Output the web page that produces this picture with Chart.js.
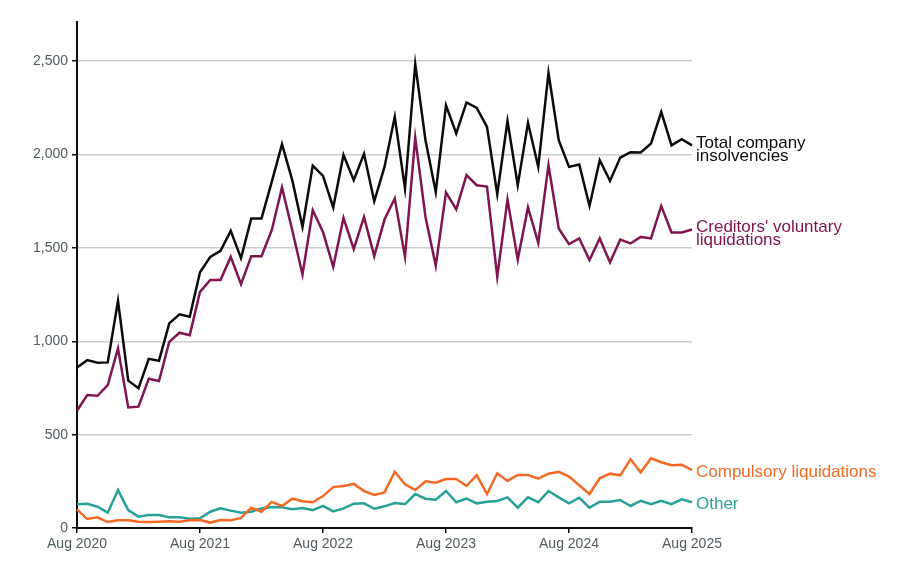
<!DOCTYPE html>
<html>
<head>
<meta charset="utf-8">
<script src="https://cdn.jsdelivr.net/npm/chart.js@4/dist/chart.umd.min.js"></script>
<style>
  html, body { margin: 0; padding: 0; background: #fff; }
  #wrap { width: 918px; height: 577px; position: relative; }
</style>
</head>
<body>
<div id="wrap"><canvas id="c"></canvas></div>
<script>
// Months Aug 2020 .. Aug 2025
const months = ["Aug 2020","Sep 2020","Oct 2020","Nov 2020","Dec 2020",
  "Jan 2021","Feb 2021","Mar 2021","Apr 2021","May 2021","Jun 2021","Jul 2021","Aug 2021","Sep 2021","Oct 2021","Nov 2021","Dec 2021",
  "Jan 2022","Feb 2022","Mar 2022","Apr 2022","May 2022","Jun 2022","Jul 2022","Aug 2022","Sep 2022","Oct 2022","Nov 2022","Dec 2022",
  "Jan 2023","Feb 2023","Mar 2023","Apr 2023","May 2023","Jun 2023","Jul 2023","Aug 2023","Sep 2023","Oct 2023","Nov 2023","Dec 2023",
  "Jan 2024","Feb 2024","Mar 2024","Apr 2024","May 2024","Jun 2024","Jul 2024","Aug 2024","Sep 2024","Oct 2024","Nov 2024","Dec 2024",
  "Jan 2025","Feb 2025","Mar 2025","Apr 2025","May 2025","Jun 2025","Jul 2025","Aug 2025"];

const totalInsolvencies = [860,899,885,887,1217,
  789,749,906,896,1096,1144,1131,1370,1452,1484,1591,1445,
  1658,1658,1854,2056,1863,1613,1941,1886,1717,1998,1863,2004,
  1750,1934,2202,1818,2484,2077,1800,2264,2113,2279,2250,2148,
  1788,2180,1836,2170,1934,2437,2077,1934,1947,1725,1970,1859,
  1984,2013,2011,2059,2228,2049,2082,2049];

const creditorsVoluntary = [628,712,708,765,962,
  646,650,799,787,997,1046,1033,1265,1328,1328,1452,1306,
  1456,1456,1595,1824,1595,1358,1702,1585,1399,1661,1493,1666,
  1456,1652,1765,1452,2091,1666,1404,1797,1706,1890,1836,1829,
  1345,1759,1438,1717,1527,1943,1604,1520,1551,1435,1551,1422,
  1545,1524,1559,1551,1725,1583,1583,1599];

const compulsory = [100,48,57,32,41,
  41,34,32,34,36,34,41,43,29,43,41,54,
  109,87,140,118,157,143,138,171,219,225,236,198,
  177,191,301,234,203,250,243,262,262,225,283,182,
  293,252,284,284,264,291,301,275,229,182,266,291,
  282,368,298,373,352,336,339,310];

const other = [127,130,114,82,203,
  96,61,70,70,57,57,50,52,87,105,93,82,
  87,105,113,111,100,107,96,119,89,105,130,132,
  103,116,134,128,182,157,151,198,138,157,132,141,
  145,164,109,164,138,198,164,132,162,109,141,141,
  150,118,146,127,146,128,154,138];

const yTicks = [0,500,1000,1500,2000,2500];

const seriesNames = [["Total company","insolvencies"],["Creditors' voluntary","liquidations"],["Compulsory liquidations"],["Other"]];
const seriesColors = ["#0b0c0c","#801650","#f46a25","#28a197"];

const FONT = "'Liberation Sans', Arial, sans-serif";

const endLabels = {
  id: 'endLabels',
  afterDatasetsDraw(chart) {
    const ctx = chart.ctx;
    ctx.save();
    ctx.font = "17px " + FONT;
    ctx.textBaseline = 'middle';
    ctx.textAlign = 'left';
    chart.data.datasets.forEach((ds, i) => {
      const meta = chart.getDatasetMeta(i);
      const pt = meta.data[meta.data.length - 1];
      const lines = seriesNames[i];
      const x = chart.chartArea.right + 4;
      ctx.fillStyle = seriesColors[i];
      if (lines.length === 2) {
        ctx.fillText(lines[0], x, pt.y - 2);
        ctx.fillText(lines[1], x, pt.y + 11);
      } else {
        ctx.fillText(lines[0], x, pt.y + 2);
      }
    });
    ctx.restore();
  }
};

const dataArrays = [totalInsolvencies, creditorsVoluntary, compulsory, other];

new Chart(document.getElementById('c'), {
  type: 'line',
  data: {
    labels: months,
    datasets: dataArrays.map((arr, i) => ({
      label: seriesNames[i].join(' '),
      data: arr,
      borderColor: seriesColors[i],
      borderWidth: 2.5,
      pointRadius: 0,
      tension: 0,
      fill: false
    }))
  },
  options: {
    responsive: true,
    maintainAspectRatio: false,
    animation: false,
    layout: { padding: { left: 0, right: 226, top: 22, bottom: 13 } },
    plugins: { legend: { display: false }, tooltip: { enabled: false } },
    scales: {
      x: {
        type: 'category',
        offset: false,
        afterBuildTicks(scale) {
          scale.ticks = scale.ticks.filter(t => t.value % 12 === 0);
        },
        afterFit(scale) { scale.height = 36; },
        ticks: {
          autoSkip: false,
          maxRotation: 0,
          color: '#505a5f',
          padding: 3,
          font: { family: FONT, size: 14 },
          callback(value) { return months[value]; }
        },
        grid: { drawOnChartArea: false, drawTicks: true, tickLength: 5, color: '#0b0c0c', lineWidth: 1.5 },
        border: { display: true, color: '#0b0c0c', width: 2 }
      },
      y: {
        min: 0,
        max: 2710,
        afterBuildTicks(scale) {
          scale.ticks = yTicks.map(v => ({ value: v }));
        },
        afterFit(scale) { scale.width = 77; },
        ticks: {
          color: '#505a5f',
          padding: 4,
          font: { family: FONT, size: 14 },
          callback(v) { return v.toLocaleString('en-GB'); }
        },
        grid: {
          color: '#cccccc',
          lineWidth: 1.5,
          tickLength: 5,
          tickColor: '#0b0c0c'
        },
        border: { display: true, color: '#0b0c0c', width: 2 }
      }
    }
  },
  plugins: [endLabels]
});
</script>
</body>
</html>
